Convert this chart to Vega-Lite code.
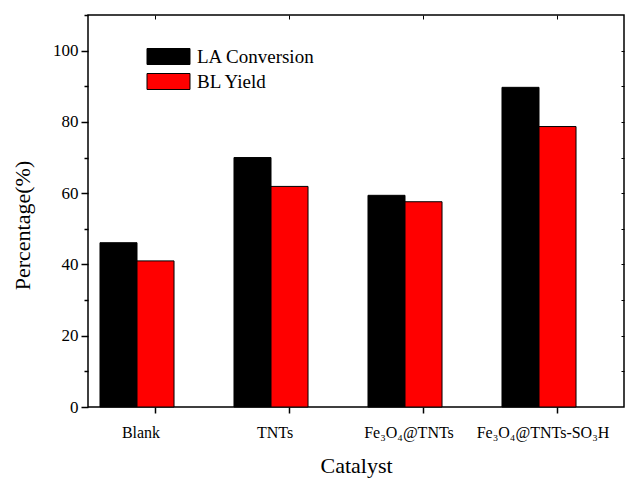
{
  "$schema": "https://vega.github.io/schema/vega-lite/v6.json",
  "autosize": {"type": "none"},
  "padding": {"left": 88, "top": 15, "right": 8, "bottom": 72},
  "width": 536,
  "height": 392,
  "config": {
    "font": "Times New Roman",
    "view": {"stroke": "#000000", "strokeWidth": 1.5},
    "axis": {"labelFont": "Times New Roman", "titleFont": "Times New Roman", "titleFontWeight": "normal", "labelColor": "#000000", "titleColor": "#000000", "tickColor": "#000000", "domainColor": "#000000", "grid": false},
    "legend": {"labelFont": "Times New Roman"}
  },
  "data": {
    "values": [
      {"catalyst": "Blank", "series": "LA Conversion", "value": 46.1},
      {"catalyst": "Blank", "series": "BL Yield", "value": 41.0},
      {"catalyst": "TNTs", "series": "LA Conversion", "value": 70.0},
      {"catalyst": "TNTs", "series": "BL Yield", "value": 61.9},
      {"catalyst": "Fe₃O₄@TNTs", "series": "LA Conversion", "value": 59.4},
      {"catalyst": "Fe₃O₄@TNTs", "series": "BL Yield", "value": 57.6},
      {"catalyst": "Fe₃O₄@TNTs-SO₃H", "series": "LA Conversion", "value": 89.7},
      {"catalyst": "Fe₃O₄@TNTs-SO₃H", "series": "BL Yield", "value": 78.7}
    ]
  },
  "layer": [
    {
      "mark": {"type": "bar", "stroke": "#000000", "strokeWidth": 1},
      "encoding": {
        "x": {
          "field": "catalyst", "type": "nominal", "sort": null,
          "scale": {"paddingInner": 0, "paddingOuter": 0},
          "axis": {"orient": "bottom", "title": "Catalyst", "titleFontSize": 22, "titlePadding": 15, "labelFontSize": 16, "labelAngle": 0, "labelPadding": 11, "labelOffset": -14, "tickSize": 6, "tickWidth": 1.5, "domain": false}
        },
        "y": {
          "field": "value", "type": "quantitative",
          "scale": {"domain": [0, 110], "nice": false},
          "axis": {"orient": "left", "title": "Percentage(%)", "titleFontSize": 22, "titleY": 210, "titlePadding": 18, "values": [0, 10, 20, 30, 40, 50, 60, 70, 80, 90, 100, 110], "labelExpr": "datum.value % 20 === 0 && datum.value <= 100 ? datum.label : ''", "labelFontSize": 17, "labelPadding": 3, "tickSize": {"condition": {"test": "datum.value % 20 === 0", "value": 7}, "value": 4}, "tickWidth": 1.5, "domain": false}
        },
        "xOffset": {
          "field": "series", "type": "nominal", "sort": ["LA Conversion", "BL Yield"],
          "scale": {"paddingInner": 0, "paddingOuter": 0.81, "align": 0.2}
        },
        "color": {
          "field": "series", "type": "nominal", "sort": ["LA Conversion", "BL Yield"],
          "scale": {"domain": ["LA Conversion", "BL Yield"], "range": ["#000000", "#ff0000"]},
          "legend": {
            "title": null, "orient": "none", "legendX": 69, "legendY": 30, "padding": 0,
            "symbolType": "M-2,-0.744H2V0.744H-2Z", "symbolSize": 462,
            "symbolStrokeColor": "#000000", "symbolStrokeWidth": 1, "symbolOpacity": 1,
            "labelFontSize": 19, "labelColor": "#000000", "labelOffset": 17, "rowPadding": 3
          }
        }
      }
    },
    {
      "mark": {"type": "bar", "opacity": 0},
      "encoding": {
        "x": {
          "field": "catalyst", "type": "nominal", "sort": null,
          "axis": {"orient": "top", "title": null, "labels": false, "domain": false, "tickSize": -4, "tickWidth": 1}
        },
        "y": {
          "field": "value", "type": "quantitative",
          "axis": {"orient": "right", "title": null, "labels": false, "domain": false, "values": [10, 20, 30, 40, 50, 60, 70, 80, 90, 100], "tickSize": -3, "tickWidth": 1}
        },
        "xOffset": {"field": "series", "type": "nominal", "sort": ["LA Conversion", "BL Yield"]}
      }
    }
  ],
  "resolve": {"axis": {"x": "independent", "y": "independent"}}
}
